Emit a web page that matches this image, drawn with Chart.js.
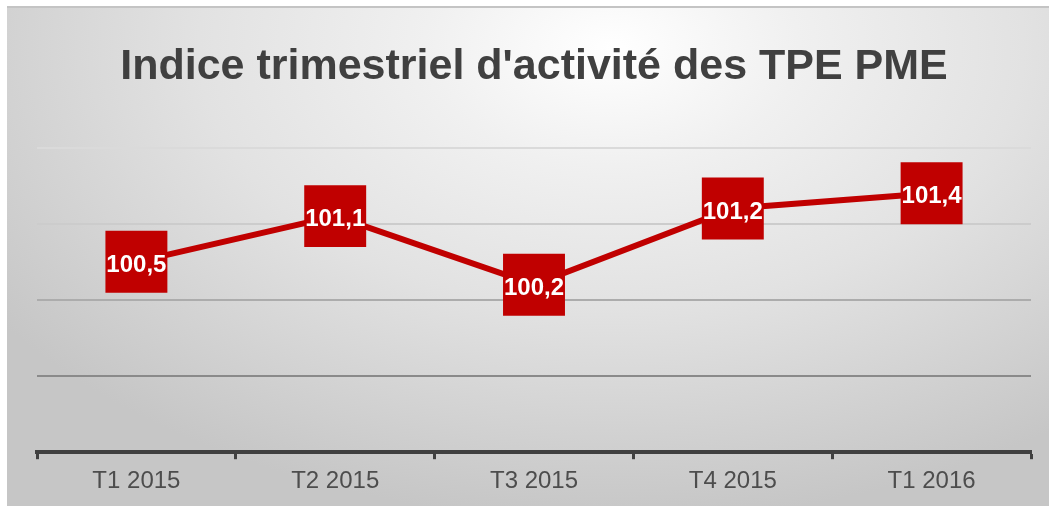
<!DOCTYPE html>
<html>
<head>
<meta charset="utf-8">
<script src="https://cdn.jsdelivr.net/npm/chart.js@4.4.1/dist/chart.umd.min.js"></script>
<style>
  html, body { margin: 0; padding: 0; background: #fff; }
  #bg {
    position: absolute; left: 7px; top: 6px; width: 1042px; height: 500px;
    border-top: 2px solid #c4c4c4; box-sizing: border-box;
    background: radial-gradient(ellipse 72% 95% at 58% 8%, #ffffff 0%, #f0f0f0 25%, #e2e2e2 55%, #c6c6c6 100%);
  }
  #wrap { position: absolute; left: 0; top: 0; width: 1049px; height: 506px; }
</style>
</head>
<body>
<div id="bg"></div>
<div id="wrap"><canvas id="chart" width="1049" height="506"></canvas></div>
<script>
const quarters = ['T1 2015', 'T2 2015', 'T3 2015', 'T4 2015', 'T1 2016'];
const indexValues = [100.5, 101.1, 100.2, 101.2, 101.4];
const yMin = 98;
const yMax = 102;

const RED = '#C00000';
const TEXT = '#404040';

// greyer grid lines further down, like the original
const gridColors = { 102: '#dadada', 101: '#cccccc', 100: '#acacac', 99: '#8a8a8a', 98: 'rgba(0,0,0,0)' };

const valueLabels = {
  id: 'valueLabels',
  afterDatasetsDraw(chart) {
    const ctx = chart.ctx;
    const meta = chart.getDatasetMeta(0);
    ctx.save();
    ctx.fillStyle = '#ffffff';
    ctx.font = 'bold 24px "Liberation Sans", Arial, sans-serif';
    ctx.textAlign = 'center';
    ctx.textBaseline = 'alphabetic';
    meta.data.forEach((pt, i) => {
      const txt = indexValues[i].toFixed(1).replace('.', ',');
      ctx.fillText(txt, pt.x, pt.y + 10);
    });
    ctx.restore();
  }
};

new Chart(document.getElementById('chart').getContext('2d'), {
  type: 'line',
  data: {
    labels: quarters,
    datasets: [{
      data: indexValues,
      borderColor: RED,
      borderWidth: 6,
      pointStyle: 'rect',
      pointRadius: 43.8,
      pointBackgroundColor: RED,
      pointBorderWidth: 0,
      tension: 0,
      fill: false,
      clip: false,
    }],
  },
  options: {
    responsive: false,
    animation: false,
    layout: { autoPadding: false, padding: { left: 37, right: 18, top: 15, bottom: 2 } },
    plugins: {
      legend: { display: false },
      tooltip: { enabled: false },
      title: {
        display: true,
        text: "Indice trimestriel d'activité des TPE PME",
        color: TEXT,
        font: { family: '"Liberation Sans", Arial, sans-serif', size: 43, weight: 'bold' },
        padding: { top: 26, bottom: 55 },
      },
    },
    scales: {
      x: {
        offset: true,
        border: { display: true, color: TEXT, width: 4 },
        grid: {
          offset: true,
          drawOnChartArea: false,
          drawTicks: true,
          tickLength: 7,
          tickWidth: 3,
          tickColor: TEXT,
        },
        ticks: {
          color: '#4d4d4d',
          padding: 8,
          font: { family: '"Liberation Sans", Arial, sans-serif', size: 24 },
        },
        afterFit: (scale) => { scale.paddingLeft = 0; scale.paddingRight = 0; },
      },
      y: {
        min: yMin,
        max: yMax,
        border: { display: false },
        grid: {
          drawTicks: false,
          tickLength: 0,
          lineWidth: 2,
          color: (c) => gridColors[c.tick ? c.tick.value : 98] || '#cccccc',
        },
        ticks: { display: false, stepSize: 1 },
        afterFit: (scale) => { scale.width = 0; },
      },
    },
  },
  plugins: [valueLabels],
});
</script>
</body>
</html>
